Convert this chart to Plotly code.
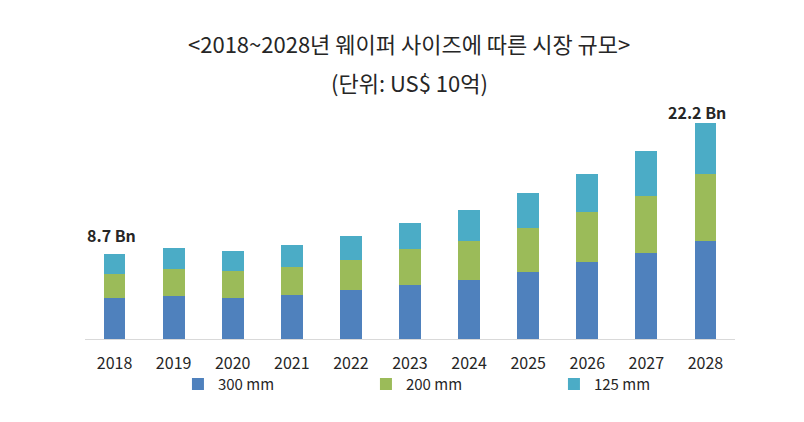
import plotly.graph_objects as go

years = ["2018", "2019", "2020", "2021", "2022", "2023", "2024", "2025", "2026", "2027", "2028"]
mm300 = [4.2, 4.4, 4.2, 4.5, 5.0, 5.5, 6.1, 6.9, 7.9, 8.8, 10.1]
mm200 = [2.5, 2.8, 2.8, 2.9, 3.15, 3.7, 4.0, 4.5, 5.1, 5.9, 6.8]
mm125 = [2.0, 2.1, 2.0, 2.25, 2.45, 2.7, 3.15, 3.55, 3.9, 4.6, 5.3]
series_names = ["300 mm", "200 mm", "125 mm"]
colors = ["#4f81bd", "#9bbb59", "#4bacc6"]

FONT = "Noto Sans CJK KR, Malgun Gothic, sans-serif"
xpos = list(range(len(years)))

fig = go.Figure()
for name, vals, col in zip(series_names, [mm300, mm200, mm125], colors):
    fig.add_trace(go.Bar(x=xpos, y=vals, name=name, width=0.37,
                         marker=dict(color=col, line=dict(width=0))))

totals = [a + b + c for a, b, c in zip(mm300, mm200, mm125)]
for idx, ys in ((0, 5), (len(years) - 1, -3)):
    fig.add_annotation(xref="x", yref="y", x=xpos[idx], y=totals[idx],
                       text=f"<b>{totals[idx]:.1f} Bn</b>",
                       showarrow=False, yanchor="bottom", xanchor="right", xshift=23, yshift=ys,
                       font=dict(family=FONT, size=16, color="#262626"))

fig.add_annotation(xref="paper", yref="paper", x=0.5, y=1.0, yshift=80, xshift=-1,
                   text="<2018~2028년 웨이퍼 사이즈에 따른 시장 규모>", showarrow=False,
                   font=dict(family=FONT, size=22, color="#262626"))
fig.add_annotation(xref="paper", yref="paper", x=0.5, y=1.0, yshift=41, xshift=-1,
                   text="(단위: US$ 10억)", showarrow=False,
                   font=dict(family=FONT, size=22, color="#262626"))

fig.update_layout(
    width=804, height=422,
    margin=dict(l=77, r=77, t=97, b=91, autoexpand=False),
    barmode="stack",
    paper_bgcolor="white", plot_bgcolor="white",
    showlegend=True,
    legend=dict(orientation="h", x=0.143, xanchor="left", y=-0.123, yanchor="top",
                bgcolor="rgba(0,0,0,0)",
                entrywidth=143, entrywidthmode="pixels", itemwidth=30,
                font=dict(family=FONT, size=15, color="#262626"), traceorder="normal"),
    font=dict(family=FONT, size=15, color="#262626"),
)
fig.update_xaxes(range=[-0.5, len(years) - 0.5], tickmode="array", tickvals=xpos, ticktext=years,
                 showline=True, linecolor="#d9d9d9", linewidth=1, ticks="outside", ticklen=10,
                 tickcolor="rgba(0,0,0,0)", showgrid=False, zeroline=False,
                 tickfont=dict(family=FONT, size=16, color="#262626"))
fig.update_yaxes(range=[0, 24], visible=False, showgrid=False)

fig.write_html("out.html")
